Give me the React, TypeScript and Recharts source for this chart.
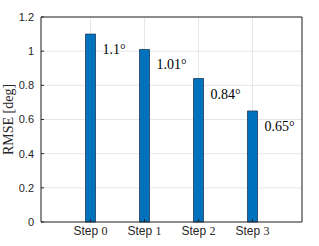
import { BarChart, Bar, XAxis, YAxis, CartesianGrid, LabelList, ReferenceLine } from 'recharts'

const steps = ['0', '1', '2', '3']
const rmse = [1.1, 1.01, 0.84, 0.65]
const rmseLabels = ['1.1°', '1.01°', '0.84°', '0.65°']
const yTicks = [0, 0.2, 0.4, 0.6, 0.8, 1, 1.2]

const data = steps.map((s, i) => ({ step: s, rmse: rmse[i], label: rmseLabels[i] }))

const axisColor = '#262626'

function StepTick(props: any) {
  const { x, y, payload } = props
  return (
    <text x={x} y={y + 14} textAnchor="middle" fill={axisColor} fontSize={12}>
      <tspan fontFamily="Liberation Sans, Arial, sans-serif">Step </tspan>
      <tspan fontFamily="Liberation Serif, serif">{payload.value}</tspan>
    </text>
  )
}

function ValueLabel(props: any) {
  const { x, y, width, value } = props
  return (
    <text x={x + width + 7} y={y + 20} fill="#000" fontSize={14} fontFamily="Liberation Serif, serif">
      {value}
    </text>
  )
}

export default function App() {
  return (
    <div style={{ position: 'absolute', left: 0, top: 0, width: 319, height: 246, background: '#fff' }}>
      <BarChart width={319} height={246} data={data} margin={{ top: 17, right: 16, left: 0, bottom: 0 }}>
        <CartesianGrid stroke="#e6e6e6" strokeWidth={1} />
        <XAxis
          dataKey="step"
          height={24}
          padding={{ left: 22.5, right: 22.5 }}
          stroke={axisColor}
          tickSize={-3}
          tick={<StepTick />}
        />
        <YAxis
          domain={[0, 1.2]}
          ticks={yTicks}
          width={41}
          stroke={axisColor}
          tickSize={-3}
          tickMargin={10}
          tick={{ fill: axisColor, fontSize: 11, fontFamily: 'Liberation Sans, Arial, sans-serif' }}
          tickFormatter={(v: number) => String(Number(v.toFixed(1)))}
          label={{ value: 'RMSE [deg]', angle: -90, position: 'insideLeft', offset: 8, style: { fontFamily: 'Liberation Serif, serif', fontSize: 14, fill: axisColor, textAnchor: 'middle' } }}
        />
        <YAxis yAxisId="r" orientation="right" domain={[0, 1.2]} ticks={yTicks} width={1} stroke={axisColor} tickSize={-3} tick={false} />
        <ReferenceLine y={1.2} stroke={axisColor} strokeWidth={1} ifOverflow="visible" />
        <Bar dataKey="rmse" barSize={10} fill="#0072BD" stroke="#1d3b5a" strokeWidth={0.8} isAnimationActive={false}>
          <LabelList dataKey="label" content={<ValueLabel />} />
        </Bar>
      </BarChart>
    </div>
  )
}
